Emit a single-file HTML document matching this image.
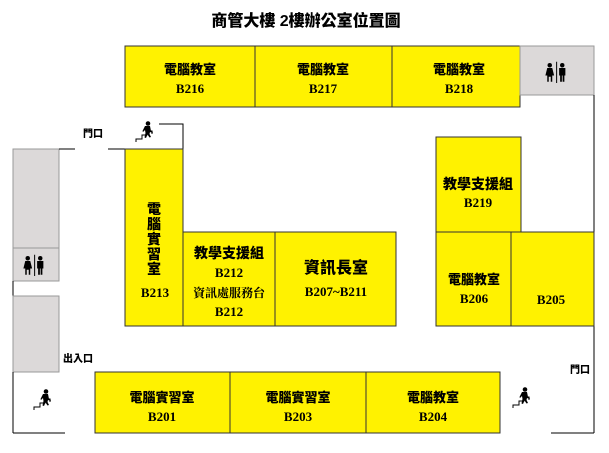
<!DOCTYPE html>
<html><head><meta charset="utf-8"><style>
html,body{margin:0;padding:0;background:#fff;}
svg{display:block}
text{font-family:"Liberation Serif","Noto Serif CJK SC","Noto Sans CJK TC",serif;font-weight:bold;fill:#000;text-anchor:middle}
.c{font-family:"Liberation Sans","Noto Sans CJK TC",sans-serif;font-weight:900}
</style></head><body>
<svg width="609" height="453" viewBox="0 0 609 453" xmlns="http://www.w3.org/2000/svg">
<defs>
<g id="st">
<polyline points="0,21 0,18 6,18 6,14 11,14 11,10 16,10 16,13" fill="none" stroke="#000" stroke-width="1"/>
<circle cx="12" cy="2.5" r="2.3" fill="#000"/>
<path d="M9,5 L14,5 L15,10 L17,11 L16.5,12 L14,11 L13.5,13 L15,16 L13.5,16.5 L11.5,13.5 L10,17 L8.5,16.5 L9.5,12 L9,9 L7,11 L6.5,10 Z" fill="#000"/>
</g>
<g id="wc">
<circle cx="3" cy="1.8" r="1.8" fill="#000"/>
<path d="M1,4 H5 L6.5,10 H5 V15 H3.8 V11 H2.2 V15 H1 V10 H-0.5 Z" fill="#000"/>
<line x1="8.5" y1="-1" x2="8.5" y2="16" stroke="#000" stroke-width="0.8"/>
<circle cx="13" cy="1.8" r="1.8" fill="#000"/>
<path d="M10.5,4 H15.5 V10 H14.7 V15 H13.3 V10 H12.7 V15 H11.3 V10 H10.5 Z" fill="#000"/>
</g>
</defs>
<text x="306" y="26" font-size="16" class="c">商管大樓 2樓辦公室位置圖</text>

<rect x="125" y="46" width="395" height="61" fill="#fff200" stroke="#333" stroke-width="1"/>
<line x1="255" y1="46" x2="255" y2="107" stroke="#333"/>
<line x1="392" y1="46" x2="392" y2="107" stroke="#333"/>
<rect x="520" y="46" width="74" height="49" fill="#dcd9d9" stroke="#999"/>
<use href="#wc" transform="translate(546,63) scale(1.25)"/>
<text x="190" y="74" font-size="13" class="c">電腦教室</text><text x="190" y="93" font-size="13">B216</text>
<text x="323" y="74" font-size="13" class="c">電腦教室</text><text x="323" y="93" font-size="13">B217</text>
<text x="459" y="74" font-size="13" class="c">電腦教室</text><text x="459" y="93" font-size="13">B218</text>
<line x1="594" y1="95" x2="594" y2="433" stroke="#000"/>
<line x1="551" y1="433" x2="594" y2="433" stroke="#000"/>

<polyline points="159,124 183,124 183,149" fill="none" stroke="#000"/>
<line x1="108" y1="149" x2="125" y2="149" stroke="#000"/>
<use href="#st" x="136" y="121"/>
<text x="93" y="137" font-size="10" class="c">門口</text>

<rect x="13" y="149" width="46" height="99" fill="#dcd9d9" stroke="#999"/>
<rect x="13" y="248" width="46" height="33" fill="#dcd9d9" stroke="#999"/>
<use href="#wc" transform="translate(24,256) scale(1.25)"/>
<line x1="59" y1="149" x2="75" y2="149" stroke="#000"/>
<line x1="13" y1="281" x2="13" y2="296" stroke="#000"/>
<rect x="13" y="296" width="46" height="76" fill="#dcd9d9" stroke="#999"/>
<line x1="13" y1="372" x2="13" y2="433" stroke="#000"/>
<line x1="13" y1="433" x2="65" y2="433" stroke="#000"/>
<use href="#st" x="34" y="389"/>
<text x="78" y="362" font-size="10" class="c">出入口</text>

<rect x="125" y="149" width="58" height="177" fill="#fff200" stroke="#333"/>
<text x="154" y="214" font-size="14" class="c">電</text>
<text x="154" y="229" font-size="14" class="c">腦</text>
<text x="154" y="244" font-size="14" class="c">實</text>
<text x="154" y="259" font-size="14" class="c">習</text>
<text x="154" y="274" font-size="14" class="c">室</text>
<text x="155" y="297" font-size="13">B213</text>

<rect x="183" y="232" width="92" height="94" fill="#fff200" stroke="#333"/>
<text x="229" y="258" font-size="14" class="c">教學支援組</text>
<text x="229" y="277" font-size="13">B212</text>
<text x="229" y="297" font-size="12" font-weight="normal">資訊處服務台</text>
<text x="229" y="316" font-size="13">B212</text>

<rect x="275" y="232" width="121" height="94" fill="#fff200" stroke="#333"/>
<text x="336" y="273" font-size="16" class="c">資訊長室</text>
<text x="336" y="296" font-size="13">B207~B211</text>

<rect x="436" y="137" width="85" height="95" fill="#fff200" stroke="#333"/>
<text x="478" y="189" font-size="14" class="c">教學支援組</text>
<text x="478" y="207" font-size="13">B219</text>
<rect x="436" y="232" width="75" height="94" fill="#fff200" stroke="#333"/>
<text x="474" y="284" font-size="13" class="c">電腦教室</text>
<text x="474" y="303" font-size="13">B206</text>
<rect x="511" y="232" width="83" height="94" fill="#fff200" stroke="#333"/>
<text x="551" y="304" font-size="13">B205</text>
<text x="580" y="373" font-size="10" class="c">門口</text>
<use href="#st" x="513" y="387"/>

<rect x="95" y="372" width="405" height="61" fill="#fff200" stroke="#333"/>
<line x1="230" y1="372" x2="230" y2="433" stroke="#333"/>
<line x1="366" y1="372" x2="366" y2="433" stroke="#333"/>
<text x="162" y="402" font-size="13" class="c">電腦實習室</text><text x="162" y="421" font-size="13">B201</text>
<text x="298" y="402" font-size="13" class="c">電腦實習室</text><text x="298" y="421" font-size="13">B203</text>
<text x="433" y="402" font-size="13" class="c">電腦教室</text><text x="433" y="421" font-size="13">B204</text>
</svg>
</body></html>
